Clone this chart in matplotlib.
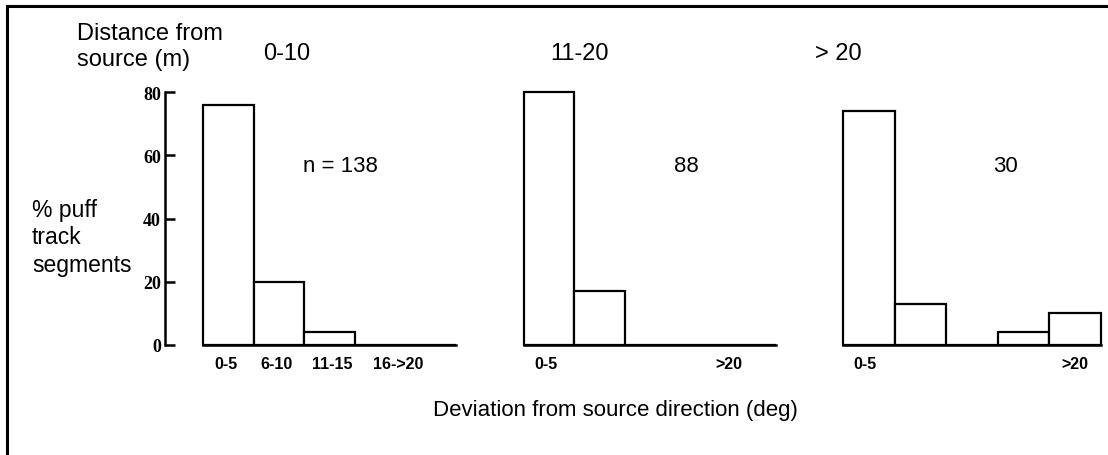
import matplotlib
matplotlib.use('Agg')
import matplotlib.pyplot as plt
from matplotlib.lines import Line2D

# ---- data ----
panel_titles = ['0-10', '11-20', '> 20']
panel_n      = ['n = 138', '88', '30']
pct_near     = [76, 20, 4, 0, 0]    # 0-10 m
pct_mid      = [80, 17, 0, 0, 0]    # 11-20 m
pct_far      = [74, 13, 0, 4, 10]   # > 20 m
labels_near  = ['0-5', '6-10', '11-15', '16->20']
labels_mid   = ['0-5', '>20']
labels_far   = ['0-5', '>20']
y_ticks      = [0, 20, 40, 60, 80]

W, H = 1108, 456
fig = plt.figure(figsize=(W / 100, H / 100), dpi=100)
fig.patch.set_facecolor('white')

def fx(px):
    return px / W

def fy(py):
    return 1 - py / H

sans = 'Liberation Sans'
xtick_font = dict(family='Liberation Sans', weight='bold', size=11.5)
ytick_font = dict(family='Liberation Serif', weight='bold', size=13)

# axes boxes in pixels: (left, right), y 0 -> 346 px, 80 -> 93 px
boxes = [(165, 456, -0.75), (524, 776, 0.0), (843, 1101, 0.0)]
values = [pct_near, pct_mid, pct_far]
tick_pos = [[0.45, 1.45, 2.55, 3.85], [0.44, 4.07], [0.43, 4.5]]
tick_lab = [labels_near, labels_mid, labels_far]

for k, (x0, x1, xmin) in enumerate(boxes):
    ax = fig.add_axes([fx(x0), fy(346), fx(x1 - x0), (346 - 93) / H])
    vals = values[k]
    ax.bar(range(len(vals)), vals, width=1.0, align='edge',
           facecolor='white', edgecolor='black', linewidth=1.6, clip_on=False)
    ax.set_xlim(xmin, 5)
    ax.set_ylim(0, 80)
    for s in ['top', 'right']:
        ax.spines[s].set_visible(False)
    ax.spines['bottom'].set_linewidth(1.8)
    ax.spines['bottom'].set_bounds(0, 5)
    ax.set_xticks(tick_pos[k])
    ax.set_xticklabels(tick_lab[k], fontdict=xtick_font)
    ax.tick_params(axis='x', length=0, pad=8)
    if k == 0:
        ax.spines['left'].set_linewidth(1.8)
        ax.set_yticks(y_ticks)
        ax.set_yticklabels([str(v) for v in y_ticks], fontdict=ytick_font)
        ax.tick_params(axis='y', direction='in', length=7, width=1.8, pad=3)
    else:
        ax.spines['left'].set_visible(False)
        ax.set_yticks([])
    ax.patch.set_alpha(0)

# panel headings and counts
title_x = [287, 580, 838]
n_x = [340, 686, 1005]
for k in range(3):
    fig.text(fx(title_x[k]), fy(54), panel_titles[k], family=sans, size=17,
             ha='center', va='center')
    fig.text(fx(n_x[k]), fy(167), panel_n[k], family=sans, size=16,
             ha='center', va='center')

fig.text(fx(77), fy(47), 'Distance from\nsource (m)', family=sans, size=17,
         ha='left', va='center', linespacing=1.2)
fig.text(fx(32), fy(238), '% puff\ntrack\nsegments', family=sans, size=16.5,
         ha='left', va='center', linespacing=1.25)
fig.text(fx(433), fy(411), 'Deviation from source direction (deg)', family=sans,
         size=16, ha='left', va='center')

# frame (left and top edges only)
fig.add_artist(Line2D([fx(7), fx(7)], [fy(7), 0], color='black', linewidth=2.2,
                      transform=fig.transFigure))
fig.add_artist(Line2D([fx(7), 1], [fy(7), fy(7)], color='black', linewidth=2.2,
                      transform=fig.transFigure))

fig.savefig('out.png', dpi=100, facecolor='white')
